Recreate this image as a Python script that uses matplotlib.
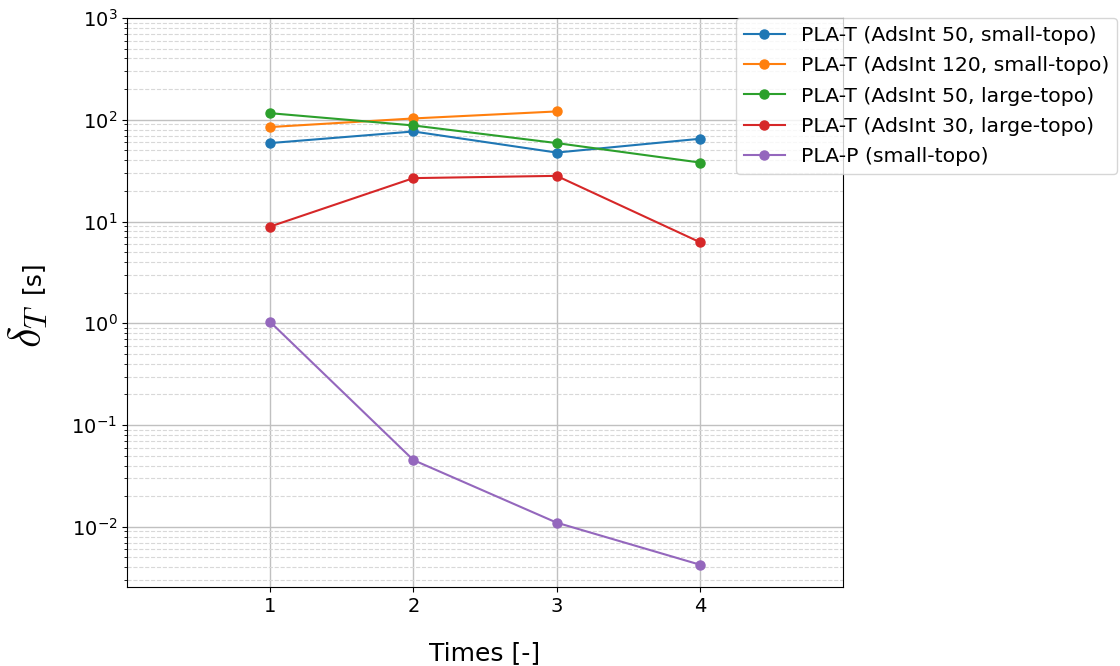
import numpy as np
import matplotlib
matplotlib.use("Agg")
import matplotlib.pyplot as plt

plt.rcParams["mathtext.fontset"] = "cm"

times = [1, 2, 3, 4]

labels = [
    "PLA-T (AdsInt 50, small-topo)",
    "PLA-T (AdsInt 120, small-topo)",
    "PLA-T (AdsInt 50, large-topo)",
    "PLA-T (AdsInt 30, large-topo)",
    "PLA-P (small-topo)",
]

plat_50_small = [59.0, 76.7, 47.6, 65.0]
plat_120_small = [84.8, 103.0, 120.7]
plat_50_large = [116.0, 87.9, 59.0, 38.0]
plat_30_large = [8.93, 26.7, 28.1, 6.27]
plap_small = [1.03, 0.0453, 0.0110, 0.00425]

series = [plat_50_small, plat_120_small, plat_50_large, plat_30_large, plap_small]

fig = plt.figure(figsize=(11.2, 6.66), dpi=100)
ax = fig.add_axes([0.1134, 0.118, 0.6393, 0.855])

for vals, lab in zip(series, labels):
    ax.plot(times[:len(vals)], vals, marker="o", markersize=6.5, linewidth=1.5, label=lab)

ax.set_yscale("log")
ax.set_ylim(0.00254, 1000)
ax.set_xlim(0, 5)
ax.set_xticks(times)
ax.tick_params(axis="both", labelsize=14)

ax.grid(True, which="major", color="#c0c0c0", linewidth=1.0)
ax.grid(True, which="minor", axis="y", color="#d8d8d8", linestyle="--", linewidth=0.8)

ax.set_xlabel("Times [-]", fontsize=18, labelpad=18)

# y label: large math symbol, smaller unit
ax.text(-0.138, 0.458, r"$\delta_T$", fontsize=32, rotation=90,
        ha="center", va="center", transform=ax.transAxes)
ax.text(-0.133, 0.546, "[s]", fontsize=18, rotation=90,
        ha="center", va="center", transform=ax.transAxes)

ax.legend(loc="upper left", bbox_to_anchor=(0.85, 1.0), fontsize=14.7,
          borderaxespad=0.0, labelspacing=0.55)

plt.savefig("out.png", dpi=100)
